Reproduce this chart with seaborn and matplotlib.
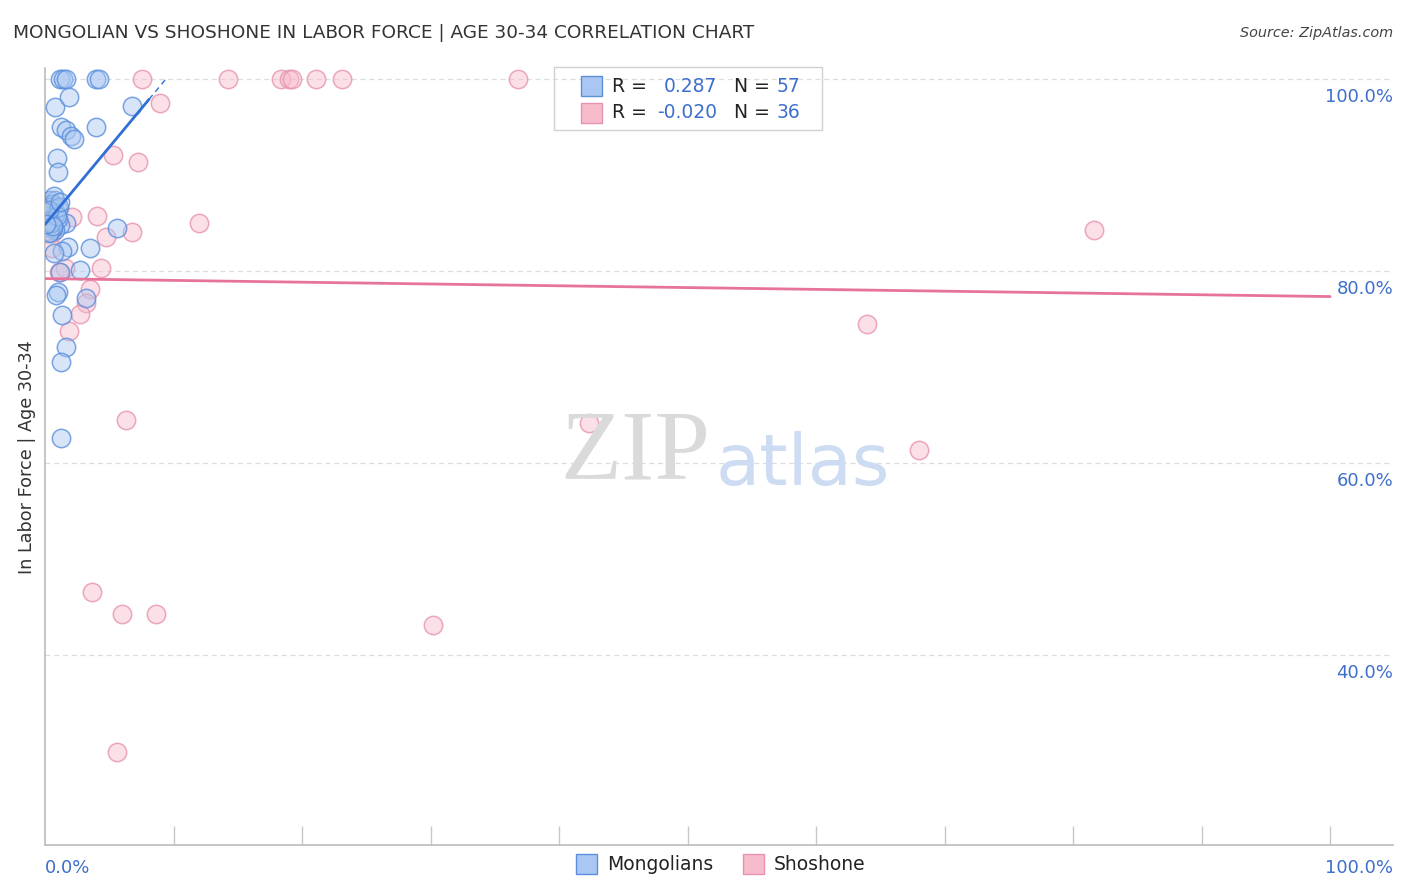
import numpy as np
import pandas as pd
import matplotlib.pyplot as plt
import seaborn as sns
from matplotlib.colors import to_rgba

sns.set_theme(style="white")
plt.rcParams['font.family'] = ['DejaVu Sans']

# Mongolians (x = % Mongolian, y = % in labor force)
mongolian_x = [1.17, 1.4, 1.63, 3.97, 4.2, 0.78, 1.87, 6.77, 3.97, 1.25,
               1.63, 2.0, 2.26, 0.93, 1.0, 5.6, 1.63, 1.8, 3.5, 1.3,
               0.7, 2.72, 1.17, 1.0, 0.86, 3.2, 1.3, 1.63, 1.25, 1.25,
               0.4, 0.8, 0.55, 1.0, 0.4, 0.7, 0.25, 0.55, 1.15, 0.15,
               0.8, 0.4, 0.85, 0.15, 1.0, 0.6, 0.4, 0.3, 0.7, 1.1,
               0.2, 0.5, 0.9, 0.35, 0.65, 1.2, 0.1]
mongolian_y = [100.0, 100.0, 100.0, 100.0, 100.0, 97.0, 98.1, 97.1, 95.0, 95.0,
               94.6, 94.0, 93.75, 91.7, 90.3, 84.4, 85.0, 82.5, 82.4, 82.0,
               81.8, 80.1, 79.9, 77.8, 77.5, 77.2, 75.4, 72.1, 70.5, 62.6,
               87.4, 87.4, 86.9, 86.4, 85.8, 85.5, 85.1, 84.8, 84.8, 84.5,
               84.2, 86.6, 86.0, 86.1, 85.4, 84.4, 84.0, 83.9, 87.8, 86.6,
               85.2, 85.0, 85.7, 86.3, 84.6, 87.1, 84.9]

# Shoshone
shoshone_x = [7.55, 14.24, 18.4, 19.0, 19.2, 21.1, 23.1, 36.8, 8.95, 5.3,
              7.24, 12.0, 4.05, 2.1, 6.77, 4.75, 81.6, 0.55, 1.56, 4.36,
              1.1, 3.5, 3.2, 2.7, 1.87, 64.0, 6.3, 42.3, 68.0, 3.66,
              6.0, 8.64, 30.2, 5.6, 0.23, 0.55]
shoshone_y = [100.0, 100.0, 100.0, 100.0, 100.0, 100.0, 100.0, 100.0, 97.5, 92.0,
              91.35, 85.0, 85.7, 85.6, 84.06, 83.5, 84.2, 83.9, 80.3, 80.3,
              79.9, 78.1, 76.6, 75.5, 73.75, 74.4, 64.4, 64.1, 61.35, 46.5,
              44.2, 44.2, 43.1, 29.9, 85.3, 82.4]

# trend lines (intercept, slope)
mongolian_trend = (84.8, 1.61)
shoshone_trend = (79.17, -0.0187)

legend_r = ["0.287", "-0.020"]
legend_n = ["57", "36"]
y_ticks = [100, 80, 60, 40]

blue_fill, blue_edge, blue_line = "#a9c7f2", "#5a8fdc", "#2f6fd6"
pink_fill, pink_edge, pink_line = "#f7bccc", "#e893ad", "#e8739a"
tick_blue = "#3d6fcc"

fig = plt.figure(figsize=(14.06, 8.92), dpi=100)
ax = fig.add_axes([0.032, 0.0527, 0.9588, 0.8711])

df_m = pd.DataFrame({"x": mongolian_x, "y": mongolian_y})
df_s = pd.DataFrame({"x": shoshone_x, "y": shoshone_y})

sns.scatterplot(data=df_s, x="x", y="y", ax=ax, s=175, color=to_rgba(pink_fill, 0.45),
                edgecolor=to_rgba(pink_edge, 0.8), linewidth=1.1, zorder=3)
sns.scatterplot(data=df_m, x="x", y="y", ax=ax, s=175, color=to_rgba(blue_fill, 0.45),
                edgecolor=to_rgba(blue_edge, 0.8), linewidth=1.1, zorder=4)

# trend lines
xs = np.array([0, 8.1])
ax.plot(xs, mongolian_trend[0] + mongolian_trend[1] * xs, color=blue_line, lw=2, zorder=5)
xs = np.array([8.1, 9.4])
ax.plot(xs, mongolian_trend[0] + mongolian_trend[1] * xs, color=blue_line, lw=1,
        ls=(0, (4, 3)), zorder=5)
xs = np.array([0, 100])
ax.plot(xs, shoshone_trend[0] + shoshone_trend[1] * xs, color=pink_line, lw=2, zorder=5)

ax.set_xlim(0, 104.9)
ax.set_ylim(20.2, 101.1)

for v in y_ticks:
    ax.axhline(v, color="#dddddd", lw=0.9, ls=(0, (4, 3)), zorder=1)
    ax.text(1.0, v - 0.95, f"{v:.1f}%", transform=ax.get_yaxis_transform(),
            ha="right", va="top", color=tick_blue, fontsize=13)

ax.set_xticks(np.arange(10, 101, 10))
ax.set_xticklabels([])
ax.tick_params(axis="x", direction="in", length=14, width=1, color="#c8c8c8", bottom=True)
ax.set_yticks([])
ax.set_xlabel("")
ax.set_ylabel("")
for side in ["top", "right"]:
    ax.spines[side].set_visible(False)
for side in ["left", "bottom"]:
    ax.spines[side].set_color("#bbbbbb")
    ax.spines[side].set_linewidth(1.2)

ax.text(0, -0.018, "0.0%", transform=ax.transAxes, ha="left", va="top",
        color=tick_blue, fontsize=13)
ax.text(1.0, -0.018, "100.0%", transform=ax.transAxes, ha="right", va="top",
        color=tick_blue, fontsize=13)

# watermark
fig.text(0.452, 0.49, "ZIP", fontsize=72, family="Liberation Serif",
         color="#dadada", ha="center", va="center", zorder=0)
fig.text(0.571, 0.478, "atlas", fontsize=52, color="#cddcf2",
         ha="center", va="center", zorder=0)

# title and source
fig.text(0.009, 0.963, "MONGOLIAN VS SHOSHONE IN LABOR FORCE | AGE 30-34 CORRELATION CHART",
         fontsize=13.3, color="#333333", ha="left", va="center")
fig.text(0.991, 0.963, "Source: ZipAtlas.com", fontsize=10.4, color="#444444",
         style="italic", ha="right", va="center")
fig.text(0.019, 0.488, "In Labor Force | Age 30-34", rotation=90, fontsize=12.7,
         color="#333333", ha="center", va="center")

# top legend box
box = plt.Rectangle((554 / 1406, 1 - 130 / 892), 268 / 1406, 63 / 892,
                    transform=fig.transFigure, fill=False, edgecolor="#d0d0d0", lw=1)
fig.patches.append(box)
rows_y = [86, 113]
for i, (fc, ec) in enumerate([(blue_fill, blue_edge), (pink_fill, pink_edge)]):
    yy = 1 - rows_y[i] / 892
    sq = plt.Rectangle((581 / 1406, yy - 10 / 892), 21 / 1406, 20 / 892,
                       transform=fig.transFigure, facecolor=fc, edgecolor=ec, lw=1)
    fig.patches.append(sq)
    fig.text(612 / 1406, yy, "R =", fontsize=13.5, color="#222222", va="center")
    fig.text(717 / 1406, yy, legend_r[i], fontsize=13.5, color=tick_blue, va="center", ha="right")
    fig.text(734 / 1406, yy, "N =", fontsize=13.5, color="#222222", va="center")
    fig.text(777 / 1406, yy, legend_n[i], fontsize=13.5, color=tick_blue, va="center")

# bottom legend
for x0, name, fc, ec in [(576, "Mongolians", blue_fill, blue_edge),
                         (743, "Shoshone", pink_fill, pink_edge)]:
    yy = 1 - 864 / 892
    sq = plt.Rectangle((x0 / 1406, yy - 10 / 892), 21 / 1406, 20 / 892,
                       transform=fig.transFigure, facecolor=fc, edgecolor=ec, lw=1)
    fig.patches.append(sq)
    fig.text((x0 + 31) / 1406, yy, name, fontsize=13.5, color="#222222", va="center")

fig.savefig("out.png", dpi=100)
